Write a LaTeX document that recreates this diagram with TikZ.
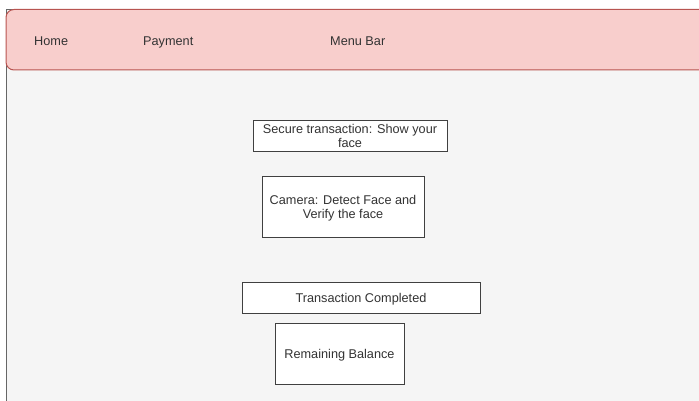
\documentclass[tikz,border=0pt]{standalone}
\usepackage{fontspec}
\setmainfont{Liberation Sans}
\begin{document}
\begin{tikzpicture}[x=1pt,y=-1pt,
  every node/.style={font=\fontsize{12.7}{14}\selectfont, text=black!80},
  screenbox/.style={draw=black!75, fill=white, line width=0.9pt, align=center,
                    inner sep=0pt, text depth=0pt},
  menutext/.style={anchor=base west, inner sep=0pt}]
  \useasboundingbox (0,0) rectangle (699,401);
  % screen background
  \draw[fill=black!4, draw=black!60, line width=1pt] (6,9.5) rectangle (720,420);
  % menu bar
  \draw[rounded corners=8pt, line width=1pt,
        fill={rgb,255:red,248;green,206;blue,204}, draw={rgb,255:red,184;green,84;blue,80}]
        (6,9.5) rectangle (740,70);
  \node[menutext] (home) at (34,45.2) {Home};
  \node[menutext] (pay) at (143,45.2) {Payment};
  \node[menutext] (menu) at (330,45.2) {Menu Bar};
  % screen elements
  \node[screenbox, text depth=-3pt, minimum width=194pt, minimum height=31pt] (secure) at (350,135.5)
    {Secure transaction: Show your\\face};
  \node[screenbox, minimum width=162pt, minimum height=61pt] (camera) at (343,206.5)
    {Camera: Detect Face and\\Verify the face};
  \node[screenbox, minimum width=238pt, minimum height=31pt] (done) at (361,297.5)
    {Transaction Completed};
  \node[screenbox, minimum width=129pt, minimum height=61pt] (balance) at (339.5,353.5)
    {Remaining Balance};
\end{tikzpicture}
\end{document}
